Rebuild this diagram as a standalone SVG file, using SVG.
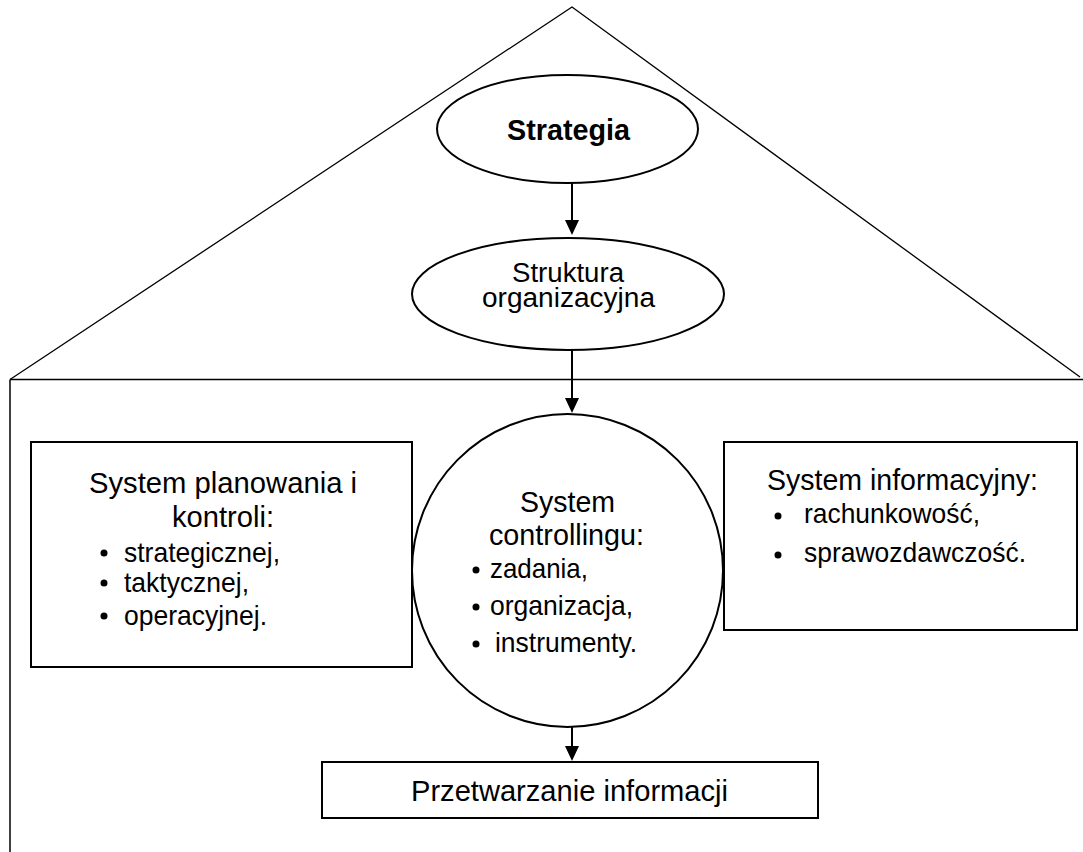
<svg xmlns="http://www.w3.org/2000/svg" width="1083" height="852" viewBox="0 0 1083 852">
  <style>
    .shape { fill: #ffffff; stroke: #000000; stroke-width: 2; }
    .frame { fill: none; stroke: #000000; stroke-width: 1.5; }
    .roof { fill: none; stroke: #000000; stroke-width: 1.3; }
    .label { font-family: "Liberation Sans", Arial, sans-serif; font-size: 29px; fill: #000000; }
    .item { font-size: 28px; }
    .tight { font-size: 27px; }
    .bold { font-weight: bold; }
    .dot { fill: #000000; }
    .edge { stroke: #000000; stroke-width: 2; fill: none; }
    .head { fill: #000000; }
  </style>
  <rect x="0" y="0" width="1083" height="852" fill="#ffffff"/>

  <!-- house outline: roof and walls -->
  <g id="house">
    <polyline class="roof" points="10,379.5 572,7 1080,377"/>
    <line class="frame" x1="10" y1="379.5" x2="1083" y2="379.5"/>
    <line class="frame" x1="10" y1="379.5" x2="10" y2="852"/>
  </g>

  <g id="connectors">
    <line class="edge" x1="572" y1="183" x2="572" y2="222"/>
    <polygon class="head" points="565,220 579,220 572,235"/>
    <line class="edge" x1="572" y1="350" x2="572" y2="400"/>
    <polygon class="head" points="565,398 579,398 572,413"/>
    <line class="edge" x1="572" y1="727" x2="572" y2="748"/>
    <polygon class="head" points="565,746 579,746 572,761"/>
  </g>

  <g id="strategia">
    <ellipse class="shape" cx="567.5" cy="129" rx="130.5" ry="54"/>
    <text class="label bold" x="507" y="140" textLength="123" lengthAdjust="spacingAndGlyphs">Strategia</text>
  </g>

  <g id="struktura">
    <ellipse class="shape" cx="568" cy="294" rx="156" ry="56"/>
    <text class="label tight" x="512" y="282" textLength="112" lengthAdjust="spacingAndGlyphs">Struktura</text>
    <text class="label tight" x="482" y="307" textLength="173" lengthAdjust="spacingAndGlyphs">organizacyjna</text>
  </g>

  <g id="planowanie">
    <rect class="shape" x="31" y="442" width="381" height="225"/>
    <text class="label" x="89" y="493" textLength="268" lengthAdjust="spacingAndGlyphs">System planowania i</text>
    <text class="label" x="172" y="527" textLength="102" lengthAdjust="spacingAndGlyphs">kontroli:</text>
    <circle class="dot" cx="104" cy="553" r="3.5"/>
    <text class="label item" x="124" y="562" textLength="156" lengthAdjust="spacingAndGlyphs">strategicznej,</text>
    <circle class="dot" cx="104" cy="583" r="3.5"/>
    <text class="label item" x="124" y="592" textLength="125" lengthAdjust="spacingAndGlyphs">taktycznej,</text>
    <circle class="dot" cx="104" cy="616" r="3.5"/>
    <text class="label item" x="124" y="625" textLength="143" lengthAdjust="spacingAndGlyphs">operacyjnej.</text>
  </g>

  <g id="controlling">
    <ellipse class="shape" cx="567.5" cy="570.5" rx="155.5" ry="156.5"/>
    <text class="label" x="520" y="512" textLength="95" lengthAdjust="spacingAndGlyphs">System</text>
    <text class="label" x="489" y="545" textLength="155" lengthAdjust="spacingAndGlyphs">controllingu:</text>
    <circle class="dot" cx="476" cy="570" r="3.5"/>
    <text class="label item" x="490" y="578" textLength="98" lengthAdjust="spacingAndGlyphs">zadania,</text>
    <circle class="dot" cx="476" cy="607" r="3.5"/>
    <text class="label item" x="490" y="615" textLength="143" lengthAdjust="spacingAndGlyphs">organizacja,</text>
    <circle class="dot" cx="476" cy="644" r="3.5"/>
    <text class="label item" x="495" y="652" textLength="142" lengthAdjust="spacingAndGlyphs">instrumenty.</text>
  </g>

  <g id="informacja">
    <rect class="shape" x="724" y="442" width="353" height="188"/>
    <text class="label" x="767" y="490" textLength="271" lengthAdjust="spacingAndGlyphs">System informacyjny:</text>
    <circle class="dot" cx="778" cy="516" r="3.5"/>
    <text class="label item" x="804" y="523" textLength="176" lengthAdjust="spacingAndGlyphs">rachunkowość,</text>
    <circle class="dot" cx="778" cy="555" r="3.5"/>
    <text class="label item" x="804" y="562" textLength="222" lengthAdjust="spacingAndGlyphs">sprawozdawczość.</text>
  </g>

  <g id="przetwarzanie">
    <rect class="shape" x="322" y="762" width="496" height="56"/>
    <text class="label" x="411" y="801" textLength="317" lengthAdjust="spacingAndGlyphs">Przetwarzanie informacji</text>
  </g>
</svg>
